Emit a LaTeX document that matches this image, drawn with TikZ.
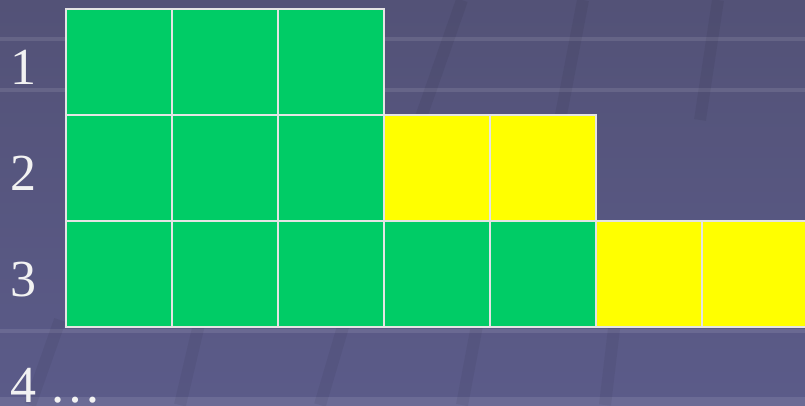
\documentclass[tikz,border=0pt]{standalone}
\usepackage{fontspec}
\setmainfont{Liberation Serif}
\definecolor{bgtop}{HTML}{535277}
\definecolor{bgbot}{HTML}{5B5B89}
\definecolor{cellgreen}{HTML}{00CC66}
\definecolor{cellyellow}{HTML}{FFFF00}
\definecolor{cellline}{HTML}{E4E4E4}
\definecolor{labelcol}{HTML}{F2F2F2}
\begin{document}
\begin{tikzpicture}[x=1pt,y=-1pt,
  cell/.style={draw=cellline,line width=1.4pt,minimum width=106pt,minimum height=106pt,inner sep=0pt,outer sep=0pt},
  gcell/.style={cell,fill=cellgreen},
  ycell/.style={cell,fill=cellyellow},
  rowlabel/.style={text=labelcol,font=\fontsize{52}{52}\selectfont,inner sep=0pt,anchor=base west},
  hstripe/.style={draw=white,opacity=0.10,line width=4pt},
  sstripe/.style={draw=black,opacity=0.05,line width=12pt}]
\useasboundingbox (0,0) rectangle (805,405);
\shade[top color=bgtop,bottom color=bgbot] (0,0) rectangle (805,405);
% faint background grid
\draw[hstripe] (0,39) -- (805,39);
\draw[hstripe] (0,90) -- (805,90);
\draw[hstripe] (0,331) -- (805,331);
\draw[hstripe,line width=10pt] (0,402) -- (805,402);
\draw[sstripe] (462,0) -- (420,120);
\draw[sstripe] (583,0) -- (560,120);
\draw[sstripe] (718,0) -- (700,120);
\draw[sstripe] (345,320) -- (320,405);
\draw[sstripe] (478,320) -- (462,405);
\draw[sstripe] (615,320) -- (605,405);
\draw[sstripe] (60,320) -- (30,405);
\draw[sstripe] (200,320) -- (180,405);
% row 1
\node[gcell] (r1c1) at (119,62) {};
\node[gcell] (r1c2) at (225,62) {};
\node[gcell] (r1c3) at (331,62) {};
% row 2
\node[gcell] (r2c1) at (119,168) {};
\node[gcell] (r2c2) at (225,168) {};
\node[gcell] (r2c3) at (331,168) {};
\node[ycell] (r2c4) at (437,168) {};
\node[ycell] (r2c5) at (543,168) {};
% row 3
\node[gcell] (r3c1) at (119,274) {};
\node[gcell] (r3c2) at (225,274) {};
\node[gcell] (r3c3) at (331,274) {};
\node[gcell] (r3c4) at (437,274) {};
\node[gcell] (r3c5) at (543,274) {};
\node[ycell] (r3c6) at (649,274) {};
\node[ycell] (r3c7) at (755,274) {};
% labels
\node[rowlabel] (l1) at (10,84) {1};
\node[rowlabel] (l2) at (10,190) {2};
\node[rowlabel] (l3) at (10,296) {3};
\node[rowlabel] (l4) at (10,402) {4 …};
\end{tikzpicture}
\end{document}
